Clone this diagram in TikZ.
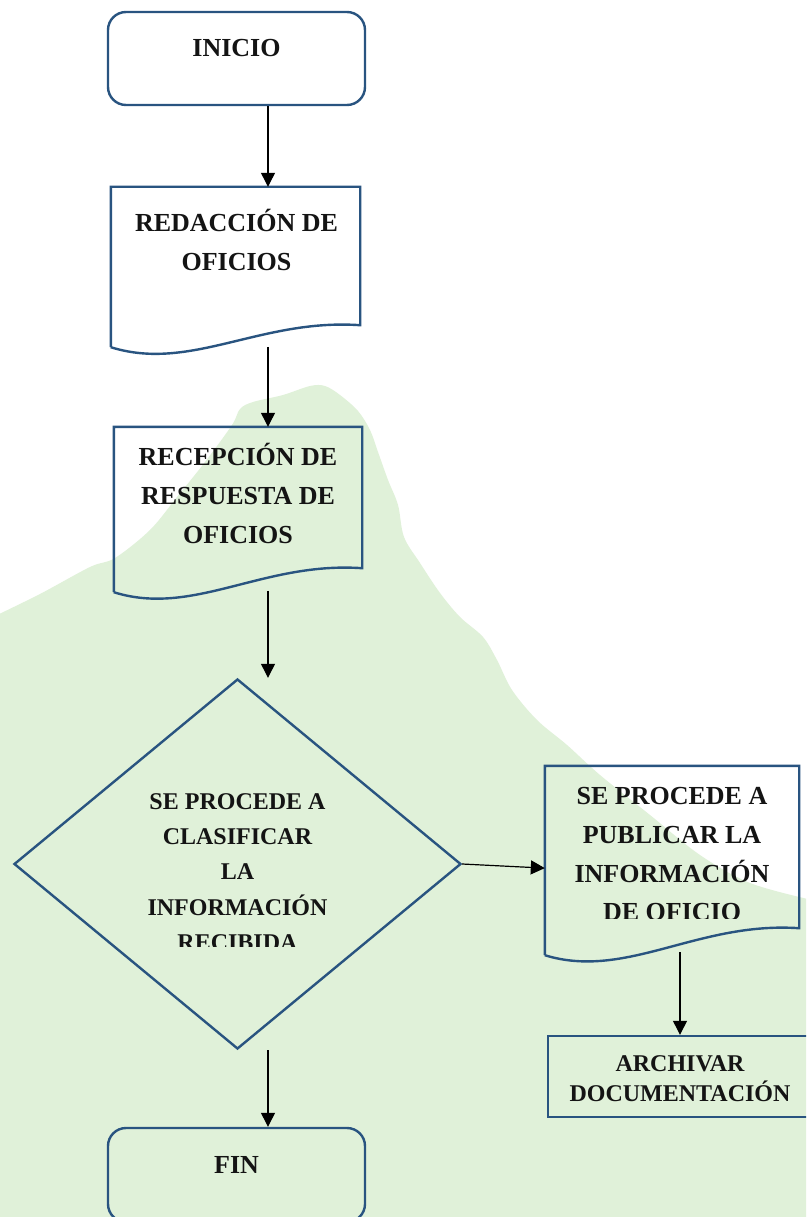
\documentclass[tikz,border=0pt]{standalone}
\usepackage{fontspec}
\setmainfont{Liberation Serif}
\usepackage{tikz}
\usetikzlibrary{shapes.geometric, arrows.meta, positioning, calc}
\definecolor{boxblue}{RGB}{41,84,128}
\definecolor{blobgreen}{RGB}{224,241,217}
\definecolor{inkblack}{RGB}{20,20,20}

% document symbol: wavy bottom drawn round an invisible box
\newcommand{\docoutline}[2]{%
  \draw[boxline] ($(#1.south west)+(0,#2)$) -- (#1.north west) -- (#1.north east) -- (#1.south east)
    .. controls ($(#1.south west)!0.6!(#1.south east)+(0,-7)$) and ($(#1.south west)!0.32!(#1.south east)+(0,#2+25)$) .. ($(#1.south west)+(0,#2)$);
  \coordinate (#1-w) at ($(#1.south)+(0,{(4*#2+54)/8+4})$);
}

\begin{document}
\begin{tikzpicture}[
  x=1pt, y=-1pt,
  boxline/.style={draw=boxblue, line width=2.4pt},
  roundbox/.style={rectangle, boxline, rounded corners=18pt, minimum width=257pt, inner sep=0pt},
  docbox/.style={rectangle, draw=none, inner sep=0pt},
  plainbox/.style={rectangle, boxline, inner sep=0pt},
  decision/.style={diamond, boxline, inner sep=0pt, minimum width=447pt, minimum height=370pt},
  txt/.style={font=\fontsize{26}{39}\selectfont\bfseries, text=inkblack, align=center, inner sep=0pt, anchor=north},
  smalltxt/.style={txt, font=\fontsize{24}{35.3}\selectfont\bfseries},
  arr/.style={-{Triangle[length=14pt, width=14pt]}, line width=1.2pt, black},
]

\useasboundingbox (0,0) rectangle (806,1217);
\clip (0,0) rectangle (806,1217);
\fill[white] (0,0) rectangle (806,1217);

% green background shape
\fill[blobgreen] plot[smooth, tension=0.55] coordinates {
  (-5,616) (40,594) (90,567) (115,558) (150,530) (177,497) (205,462) (232,425)
  (240,409) (253,402) (283,395) (310,386) (325,386) (340,395) (358,411) (370,430)
  (378,452) (388,480) (398,505) (404,537) (420,563) (440,593) (460,617) (483,637)
  (497,660) (512,690) (537,720) (567,745) (600,775) (650,815) (700,855) (750,883)
  (812,900)}
  -- (812,1222) -- (-5,1222) -- cycle;

\node[roundbox, minimum height=93pt] (inicio) at (236.5,58.5) {};
\node[docbox, minimum width=249pt, minimum height=138pt] (redac) at (235.5,256) {};
\node[docbox, minimum width=248pt, minimum height=141pt] (recep) at (238,497.5) {};
\node[decision] (dec) at (237.5,864) {};
\node[docbox, minimum width=254pt, minimum height=162pt] (publ) at (672,847) {};
\node[plainbox, minimum width=264pt, minimum height=81pt] (archivo) at (680,1076.5) {};
\node[roundbox, minimum height=94pt] (fin) at (236.5,1175) {};

\docoutline{redac}{22}
\docoutline{recep}{24}
\docoutline{publ}{27}

\node[txt] (inicio-t) at (236.5,29.3) {\strut INICIO};
\node[txt] (redac-t) at (236.5,204.3) {\strut REDACCIÓN DE\\OFICIOS};
\node[txt] (recep-t) at (238,438.3) {\strut RECEPCIÓN DE\\RESPUESTA DE\\OFICIOS};
\begin{scope}
  \clip (0,0) rectangle (806,946);
  \node[smalltxt] (dec-t) at (237.5,784.2) {\strut SE PROCEDE A\\CLASIFICAR\\LA\\INFORMACIÓN\\RECIBIDA};
\end{scope}
\begin{scope}
  \clip (0,0) rectangle (806,918);
  \node[txt, font=\fontsize{26}{38.7}\selectfont\bfseries] (publ-t) at (672,777.5) {\strut SE PROCEDE A\\PUBLICAR LA\\INFORMACIÓN\\DE OFICIO};
\end{scope}
\node[smalltxt, font=\fontsize{24}{30}\selectfont\bfseries] (archivo-t) at (680,1049.9) {\strut ARCHIVAR\\DOCUMENTACIÓN};
\node[txt] (fin-t) at (236.5,1146.3) {\strut FIN};

\coordinate (col) at (268,0);
\draw[arr] (inicio.south -| col) -- (redac.north -| col);
\draw[arr] (redac-w -| col) -- (recep.north -| col);
\draw[arr] (recep-w -| col) -- (dec.north -| col);
\draw[arr] (dec.east) -- ($(publ.north west)!0.63!(publ.south west)$);
\draw[arr] (publ-w -| archivo.north) -- (archivo.north);
\draw[arr] (dec.south -| col) -- (fin.north -| col);

\end{tikzpicture}
\end{document}
